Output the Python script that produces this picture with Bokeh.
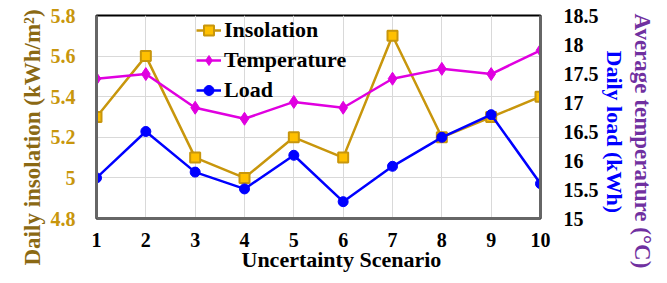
from bokeh.plotting import figure
from bokeh.models import LinearAxis, Range1d, FixedTicker, Legend, LegendItem, Title
from bokeh.embed import file_html
from bokeh.resources import INLINE

scenarios = [1, 2, 3, 4, 5, 6, 7, 8, 9, 10]
insolation = [5.3, 5.6, 5.1, 5.0, 5.2, 5.1, 5.7, 5.2, 5.3, 5.4]
temperature = [17.41, 17.49, 16.91, 16.72, 17.01, 16.91, 17.41, 17.58, 17.49, 17.9]
load = [15.7, 16.5, 15.8, 15.51, 16.09, 15.29, 15.9, 16.4, 16.79, 15.6]
left_ticks = [4.8, 5.0, 5.2, 5.4, 5.6, 5.8]
right_ticks = [15, 15.5, 16, 16.5, 17, 17.5, 18, 18.5]

FONT = "Liberation Serif"
GOLD = "#C8960C"
GOLD_FILL = "#FFC000"
MAG = "#E000E0"
BLUE = "#0000FF"

W, H = 659, 275
FL, FR, FT, FB = 96, 540, 15, 218  # frame edges in canvas pixels

p = figure(width=W, height=H, output_backend="svg", toolbar_location=None,
           x_range=Range1d(1, 10), y_range=Range1d(4.8, 5.8),
           min_border_left=FL, min_border_right=W - FR, min_border_top=FT,
           min_border_bottom=H - FB)
p.extra_y_ranges = {"r": Range1d(15, 18.5)}

p.outline_line_color = "black"
p.outline_line_width = 2

p.xaxis.ticker = FixedTicker(ticks=scenarios)
p.yaxis.ticker = FixedTicker(ticks=left_ticks)
p.yaxis.major_label_overrides = {5.0: "5"}
p.xgrid.ticker = FixedTicker(ticks=scenarios)
p.grid.grid_line_color = "#D9D9D9"
p.grid.grid_line_width = 1

ra = LinearAxis(y_range_name="r", ticker=FixedTicker(ticks=right_ticks))
p.add_layout(ra, "right")

for ax in [p.xaxis[0], p.yaxis[0], ra]:
    ax.axis_line_color = "#666666"
    ax.axis_line_width = 3
    ax.major_tick_line_color = None
    ax.minor_tick_line_color = None
    ax.major_tick_out = 0
    ax.major_tick_in = 0
    ax.minor_tick_out = 0
    ax.minor_tick_in = 0
    ax.major_label_text_font = FONT
    ax.major_label_text_font_style = "bold"
    ax.major_label_text_font_size = "20px"

p.xaxis.major_label_text_color = "black"
p.xaxis.major_label_standoff = 14
p.yaxis.major_label_text_color = GOLD
p.yaxis.major_label_standoff = 21
ra.major_label_text_color = "black"
ra.major_label_standoff = 23


def side_title(text, side, offset, color, size="23px", standoff=0):
    t = Title(text=text, align="left", offset=offset, standoff=standoff,
              text_font=FONT, text_font_style="bold", text_font_size=size,
              text_color=color)
    p.add_layout(t, side)


side_title("Daily insolation (kWh/m\u00b2)", "left", -47, "#8B6914", standoff=6)
side_title("Daily load (kWh)", "right", 35, BLUE, size="22px", standoff=0)
side_title("Average temperature (\u00b0C)", "right", -2, "#7030A0", standoff=3)
side_title("Uncertainty Scenario", "below", 145, "black", size="22px", standoff=-10)

l1 = p.line(scenarios, insolation, line_color=GOLD, line_width=2.5)
m1 = p.scatter(scenarios, insolation, marker="square", size=10, fill_color=GOLD_FILL,
               line_color=GOLD, line_width=2)
l2 = p.line(scenarios, temperature, y_range_name="r", line_color=MAG, line_width=2.5)
m2 = p.scatter(scenarios, temperature, y_range_name="r", marker="diamond", size=13,
               fill_color=MAG, line_color=MAG)
l3 = p.line(scenarios, load, y_range_name="r", line_color=BLUE, line_width=2.5)
m3 = p.scatter(scenarios, load, y_range_name="r", marker="circle", size=10,
               fill_color=BLUE, line_color=BLUE)

legend = Legend(items=[
    LegendItem(label="Insolation", renderers=[l1, m1]),
    LegendItem(label="Temperature", renderers=[l2, m2]),
    LegendItem(label="Load", renderers=[l3, m3]),
], location=(100, (FB - FT) - 90 + 2))
legend.background_fill_alpha = 0
legend.border_line_color = None
legend.label_text_font = FONT
legend.label_text_font_style = "bold"
legend.label_text_font_size = "22px"
legend.label_text_color = "black"
legend.label_height = 26
legend.glyph_height = 26
legend.glyph_width = 25
legend.spacing = 4
legend.padding = 2
legend.margin = 0
legend.label_standoff = 3
p.add_layout(legend, "center")

open("out.html", "w").write(file_html(p, INLINE))
